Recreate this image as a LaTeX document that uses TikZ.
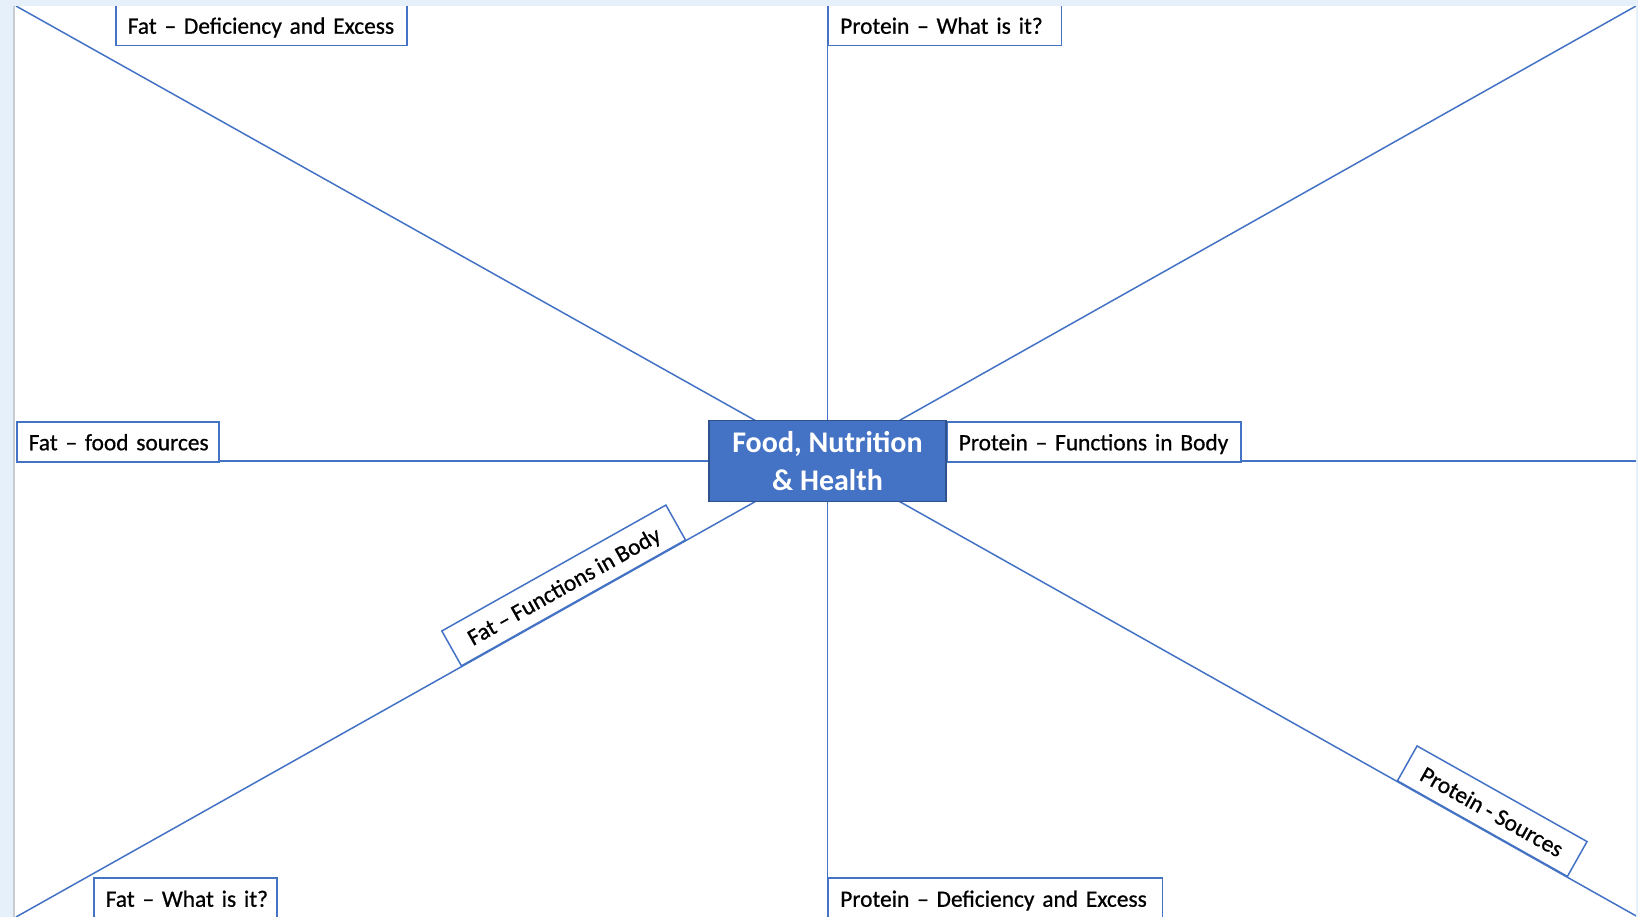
\documentclass[tikz,border=0pt]{standalone}
\usepackage{fontspec}
\setmainfont{Carlito}
\newfontfamily\labelfont[FakeBold=0.7,Ligatures=TeX,WordSpace=0.9]{Carlito}
\definecolor{lineblue}{RGB}{68,114,196}
\definecolor{boxedge}{RGB}{47,82,143}
\definecolor{bandblue}{RGB}{230,240,250}
\definecolor{edgegray}{RGB}{200,204,208}
\begin{document}
\begin{tikzpicture}[x=1pt,y=-1pt,
  spoke/.style={draw=lineblue, line width=1.5pt},
  lblbase/.style={draw=lineblue, line width=1.5pt, fill=white, text=black,
    font=\labelfont\fontsize{23.4}{28}\selectfont, inner ysep=0pt, minimum height=40pt,
    text height=19.5pt, text depth=2.5pt},
  lbl/.style={lblbase, anchor=north west, inner xsep=12pt, align=left},
  tilted/.style={lblbase, sloped, anchor=south, inner xsep=6pt, align=center},
  title/.style={draw=boxedge, line width=1.5pt, fill=lineblue, text=white,
    font=\fontsize{30}{37.6}\selectfont\bfseries, align=center,
    minimum width=237pt, minimum height=81pt, inner sep=0pt}]
\useasboundingbox (0,0) rectangle (1638,917);
\fill[white] (0,0) rectangle (1638,917);
\coordinate (c) at (827.5,461);
\coordinate (tl) at (16,6);
\coordinate (tr) at (1636,6);
\coordinate (bl) at (16,917);
\coordinate (br) at (1638,917);
\coordinate (top) at (827.5,4);
\coordinate (bot) at (827.5,918);
\coordinate (lft) at (16,461);
\coordinate (rgt) at (1638,461);
% spokes
\draw[spoke] (c) -- (tl);
\draw[spoke] (c) -- (tr);
\draw[spoke] (c) -- (bl);
\draw[spoke] (c) -- (br);
\draw[spoke] (top) -- (bot);
\draw[spoke] (lft) -- (rgt);
% labels
\node[lbl, text width=267pt, minimum height=41pt] (fde) at (115,4) {\mbox{Fat – Deficiency and Excess}};
\node[lbl, text width=209pt, minimum height=41pt] (pwi) at (827.5,4) {\mbox{Protein – What is it?}};
\node[lbl, text width=178pt] (ffs) at (16,421) {\mbox{Fat – food sources}};
\node[lbl, text width=270pt] (pfb) at (946,421) {\mbox{Protein – Functions in Body}};
\node[lbl, text width=159pt, minimum height=41pt] (fwi) at (93,877) {\mbox{Fat – What is it?}};
\node[lbl, text width=310pt, minimum height=41pt] (pde) at (827.5,877) {\mbox{Protein – Deficiency and Excess}};
\path (c) -- (bl) node[tilted, pos=0.3126, minimum width=257pt] (ffb) {Fat – Functions in Body};
\path (c) -- (br) node[tilted, pos=0.8076, minimum width=195pt] (pso) {Protein - Sources};
% centre
\node[title] (ctr) at (c) {Food, Nutrition\\\& Health};
% window frame
\fill[bandblue] (0,0) rectangle (1638,6);
\fill[bandblue] (0,0) rectangle (13,917);
\fill[bandblue] (1636,0) rectangle (1638,917);
\draw[edgegray, line width=2pt] (14,6) -- (14,917);
\end{tikzpicture}
\end{document}
